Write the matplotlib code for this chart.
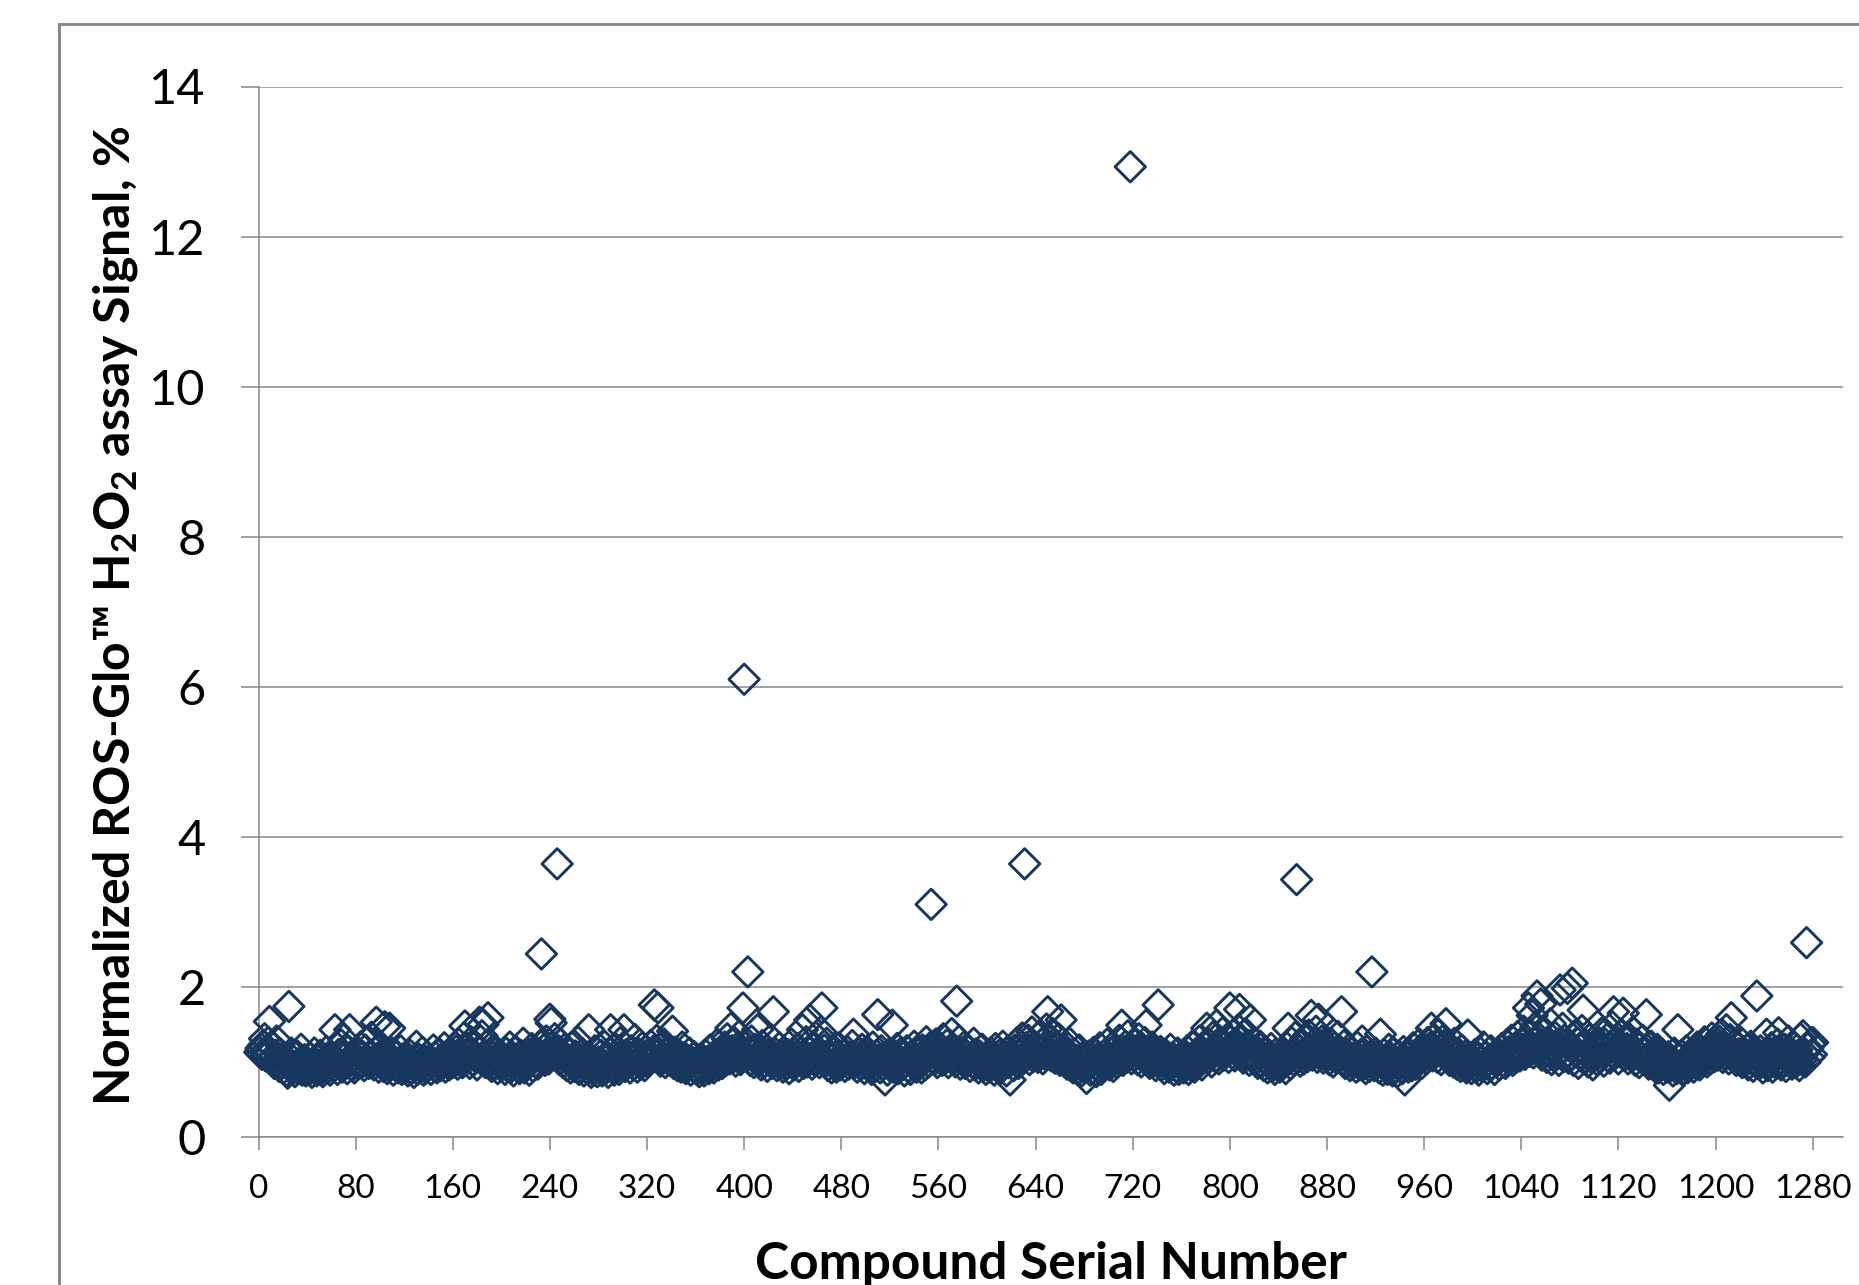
import matplotlib.pyplot as plt
from matplotlib.patches import Rectangle
import numpy as np

plt.rcParams['font.family'] = ['Lato', 'DejaVu Sans']
plt.rcParams['mathtext.fontset'] = 'custom'
plt.rcParams['mathtext.rm'] = 'Lato'
plt.rcParams['mathtext.bf'] = 'Lato:bold'

# normalized signal, one value per compound (serial 1..1280)
signal = [
    1.13, 1.18, 1.10, 1.22, 1.31, 1.08, 1.15, 1.26, 1.54, 1.12, 1.05, 1.19, 0.98, 1.09, 1.28, 1.02, 0.94, 1.11, 0.99, 1.06,
    0.92, 1.04, 0.88, 0.85, 1.74, 0.97, 1.12, 0.90, 1.01, 0.87, 0.95, 1.08, 0.91, 0.99, 1.17, 0.89, 0.96, 1.03, 0.88, 0.93,
    0.97, 0.90, 1.05, 0.86, 0.99, 1.12, 0.93, 0.88, 1.02, 0.95, 1.09, 0.91, 0.87, 1.00, 0.96, 1.14, 0.92, 1.04, 0.89, 0.98,
    1.06, 0.94, 1.43, 1.01, 0.90, 1.10, 0.97, 1.23, 0.93, 1.30, 1.05, 0.99, 0.91, 1.15, 1.43, 1.02, 0.95, 1.08, 0.92, 1.00,
    1.04, 0.97, 1.11, 1.20, 0.99, 1.07, 0.95, 1.16, 1.02, 1.28, 0.98, 1.09, 1.33, 1.01, 0.96, 1.13, 1.53, 1.05, 0.93, 1.18,
    1.00, 1.10, 0.94, 1.47, 1.06, 0.91, 1.03, 1.45, 0.97, 1.12, 0.89, 1.01, 0.95, 1.08, 0.92, 0.99, 1.15, 0.90, 1.04, 0.96,
    0.93, 1.02, 0.88, 0.97, 1.09, 0.91, 1.00, 0.86, 0.95, 1.21, 0.90, 1.04, 0.94, 0.99, 1.13, 0.89, 1.01, 0.92, 1.07, 0.96,
    1.03, 0.90, 0.98, 1.16, 0.94, 1.06, 0.92, 1.00, 1.11, 0.95, 1.04, 0.98, 1.19, 0.93, 1.08, 1.01, 0.96, 1.13, 1.05, 0.99,
    1.07, 1.01, 1.15, 0.97, 1.24, 1.05, 1.10, 0.99, 1.32, 1.48, 1.03, 1.18, 1.08, 0.98, 1.27, 1.12, 1.02, 1.21, 1.06, 0.96,
    1.14, 1.53, 1.04, 1.35, 1.50, 1.09, 0.99, 1.22, 1.59, 1.01, 1.11, 0.94, 1.06, 1.17, 0.97, 1.03, 0.91, 1.08, 1.00, 0.95,
    0.98, 1.05, 0.90, 1.12, 0.94, 1.01, 1.20, 0.93, 1.07, 0.88, 0.99, 1.14, 0.95, 1.03, 0.91, 1.09, 0.97, 1.25, 0.92, 1.04,
    0.96, 1.11, 0.89, 1.02, 1.18, 0.94, 1.06, 1.00, 1.13, 0.97, 1.08, 1.22, 2.44, 1.05, 1.16, 1.02, 1.28, 1.10, 1.04, 1.57,
    1.52, 1.19, 1.12, 1.31, 1.08, 3.64, 1.15, 1.03, 1.24, 1.09, 0.99, 1.17, 1.06, 0.95, 1.13, 1.02, 0.92, 1.20, 1.00, 0.94,
    1.08, 0.97, 1.27, 0.90, 1.03, 0.93, 1.11, 0.88, 0.99, 1.05, 0.91, 1.43, 0.96, 0.86, 1.02, 0.89, 1.15, 0.94, 0.87, 1.00,
    0.92, 1.09, 0.88, 0.97, 1.21, 0.91, 1.04, 0.86, 1.12, 1.43, 0.95, 1.01, 0.89, 1.18, 0.93, 1.06, 0.90, 1.26, 0.98, 1.03,
    1.43, 0.94, 1.10, 0.99, 1.07, 0.92, 1.15, 1.02, 0.96, 1.30, 1.05, 0.93, 1.11, 1.00, 0.97, 1.19, 1.04, 0.95, 1.08, 1.01,
    1.10, 1.03, 1.22, 1.07, 1.14, 1.76, 1.09, 1.29, 1.72, 1.12, 1.01, 1.19, 1.06, 1.24, 0.99, 1.11, 1.04, 1.16, 1.02, 1.08,
    1.41, 0.98, 1.13, 1.05, 0.95, 1.10, 1.00, 0.93, 1.20, 0.97, 1.06, 0.91, 1.02, 0.96, 1.12, 0.89, 1.00, 0.94, 1.07, 0.92,
    0.90, 0.98, 0.87, 1.04, 0.93, 0.99, 0.88, 1.10, 0.95, 1.01, 0.91, 1.16, 0.97, 1.05, 0.92, 1.09, 1.00, 1.24, 0.96, 1.03,
    1.12, 0.98, 1.07, 1.20, 1.02, 1.31, 1.10, 1.04, 1.45, 1.15, 1.06, 1.26, 1.01, 1.18, 1.09, 1.35, 1.03, 1.13, 1.72, 6.10,
    1.21, 1.08, 2.20, 1.14, 1.02, 1.28, 1.10, 0.99, 1.17, 1.05, 1.43, 1.01, 1.12, 0.96, 1.22, 1.07, 1.00, 1.15, 0.94, 1.09,
    1.03, 1.30, 0.98, 1.67, 1.06, 1.11, 0.95, 1.04, 1.19, 0.99, 1.08, 0.93, 1.13, 1.02, 0.97, 1.10, 0.91, 1.05, 1.24, 1.00,
    0.96, 1.07, 1.01, 1.18, 0.94, 1.12, 1.03, 1.43, 0.98, 1.09, 1.27, 1.00, 1.14, 1.56, 1.05, 0.97, 1.21, 1.02, 1.33, 1.08,
    1.11, 0.99, 1.40, 1.72, 1.06, 1.16, 1.01, 1.25, 0.95, 1.10, 1.04, 0.92, 1.13, 0.98, 1.07, 0.93, 1.02, 1.19, 0.96, 1.05,
    1.00, 1.09, 0.94, 1.03, 1.14, 0.97, 1.06, 1.01, 1.22, 1.37, 0.99, 1.08, 0.93, 1.11, 1.02, 0.96, 1.17, 1.04, 0.91, 1.07,
    0.98, 1.13, 0.95, 1.05, 0.90, 1.20, 1.00, 0.94, 1.09, 1.63, 1.03, 0.92, 1.15, 0.97, 1.06, 0.76, 1.01, 0.89, 1.10, 0.95,
    1.04, 1.49, 0.93, 1.08, 0.99, 1.18, 0.91, 1.02, 1.12, 0.96, 1.06, 0.88, 1.00, 1.15, 0.94, 1.03, 0.90, 1.09, 0.97, 1.21,
    1.01, 0.93, 1.11, 0.98, 1.05, 0.92, 1.16, 1.02, 0.96, 1.27, 1.08, 1.00, 1.19, 3.10, 1.06, 1.13, 1.03, 1.24, 0.99, 1.10,
    1.07, 1.18, 1.02, 1.31, 1.11, 1.05, 1.23, 0.99, 1.14, 1.08, 1.38, 1.03, 1.16, 1.00, 1.81, 1.10, 1.28, 0.97, 1.12, 1.04,
    1.20, 0.98, 1.09, 1.01, 1.15, 0.94, 1.06, 1.00, 1.25, 0.96, 1.11, 1.03, 0.92, 1.08, 0.99, 1.17, 0.95, 1.04, 0.90, 1.07,
    1.02, 0.93, 1.12, 0.97, 1.05, 0.89, 1.18, 1.00, 0.94, 1.09, 0.91, 1.03, 1.21, 0.96, 1.07, 0.88, 1.14, 0.99, 0.76, 1.04,
    1.10, 0.95, 1.16, 1.02, 1.26, 0.98, 1.08, 1.13, 1.32, 1.05, 3.64, 1.19, 1.09, 1.29, 1.03, 1.15, 1.40, 1.07, 1.21, 1.11,
    1.17, 1.06, 1.34, 1.12, 1.24, 1.04, 1.19, 1.10, 1.44, 1.67, 1.14, 1.27, 1.08, 1.38, 1.16, 1.05, 1.22, 1.11, 1.31, 1.02,
    1.56, 1.09, 1.18, 1.00, 1.13, 0.97, 1.07, 1.25, 0.95, 1.04, 0.92, 1.11, 0.99, 1.02, 0.90, 1.16, 0.96, 0.88, 1.06, 0.93,
    1.01, 0.78, 0.94, 1.08, 0.89, 1.00, 0.92, 1.13, 0.97, 0.87, 1.05, 0.93, 1.19, 0.90, 1.02, 0.95, 1.10, 0.98, 1.24, 1.03,
    0.96, 1.12, 1.01, 0.94, 1.07, 1.17, 0.99, 1.05, 1.29, 1.09, 1.49, 1.02, 1.14, 1.21, 1.06, 1.35, 1.11, 12.93, 1.04, 1.16,
    1.08, 1.23, 1.13, 1.03, 1.31, 1.10, 1.00, 1.18, 1.06, 1.26, 1.49, 1.04, 1.15, 0.98, 1.09, 1.20, 1.01, 1.12, 0.95, 1.07,
    1.76, 1.02, 1.14, 0.96, 1.05, 0.91, 1.10, 0.99, 1.03, 0.93, 1.17, 0.97, 1.06, 0.89, 1.01, 0.94, 1.12, 0.90, 1.00, 0.95,
    1.04, 0.92, 1.09, 0.97, 1.15, 0.90, 1.02, 0.95, 1.21, 1.00, 0.93, 1.11, 0.98, 1.06, 1.28, 1.03, 0.96, 1.13, 1.08, 1.19,
    1.45, 1.05, 1.24, 1.11, 1.00, 1.33, 1.15, 1.07, 1.49, 1.18, 1.04, 1.27, 1.12, 1.39, 1.09, 1.22, 1.14, 1.31, 1.06, 1.72,
    1.20, 1.12, 1.36, 1.08, 1.25, 1.16, 1.43, 1.70, 1.11, 1.29, 1.05, 1.18, 1.38, 1.09, 1.22, 1.02, 1.56, 1.13, 1.07, 1.26,
    1.03, 1.15, 0.98, 1.10, 1.21, 1.00, 1.06, 0.95, 1.14, 1.02, 0.92, 1.08, 0.99, 1.18, 0.94, 1.04, 0.90, 1.11, 0.97, 1.01,
    0.93, 1.07, 0.96, 1.13, 1.00, 0.91, 1.19, 1.45, 1.04, 0.97, 1.26, 1.09, 1.02, 1.33, 3.43, 1.06, 1.15, 1.01, 1.22, 1.10,
    1.04, 1.30, 1.12, 1.07, 1.36, 1.17, 1.62, 1.09, 1.24, 1.14, 1.41, 1.06, 1.57, 1.19, 1.11, 1.28, 1.05, 1.21, 1.13, 1.08,
    1.16, 1.03, 1.25, 1.09, 1.00, 1.19, 1.12, 1.05, 1.34, 1.08, 1.14, 1.67, 1.02, 1.22, 0.98, 1.11, 1.06, 1.17, 0.95, 1.04,
    1.13, 0.99, 1.07, 0.93, 1.20, 1.01, 0.96, 1.10, 1.28, 0.97, 1.05, 0.91, 1.15, 1.00, 0.94, 1.08, 2.20, 1.02, 0.95, 1.12,
    0.98, 1.06, 0.92, 1.37, 1.01, 0.89, 1.10, 0.95, 1.03, 0.90, 1.17, 0.97, 1.05, 0.88, 1.12, 0.93, 1.00, 0.87, 1.08, 0.96,
    1.02, 0.91, 1.14, 0.76, 0.99, 1.06, 0.93, 1.11, 1.00, 0.95, 1.19, 1.03, 0.97, 1.09, 1.01, 1.24, 1.05, 0.98, 1.13, 1.07,
    1.15, 1.04, 1.26, 1.10, 1.19, 1.45, 1.08, 1.31, 1.13, 1.22, 1.06, 1.37, 1.16, 1.03, 1.28, 1.11, 1.21, 1.51, 1.07, 1.14,
    1.02, 1.18, 1.09, 1.00, 1.25, 1.05, 0.97, 1.12, 1.03, 0.94, 1.16, 1.01, 0.95, 1.08, 0.92, 1.36, 0.99, 1.06, 0.91, 1.02,
    0.96, 1.10, 0.93, 1.04, 0.89, 1.13, 1.00, 0.94, 1.20, 0.98, 1.07, 0.91, 1.02, 0.95, 1.15, 0.97, 1.05, 0.90, 1.09, 1.01,
    1.12, 0.96, 1.06, 1.18, 1.00, 1.09, 0.98, 1.23, 1.04, 1.14, 1.07, 1.29, 1.02, 1.11, 1.19, 1.06, 1.34, 1.13, 1.08, 1.25,
    1.17, 1.41, 1.10, 1.28, 1.20, 1.72, 1.14, 1.36, 1.62, 1.12, 1.25, 1.47, 1.88, 1.18, 1.31, 1.77, 1.09, 1.22, 1.40, 1.15,
    1.06, 1.27, 1.13, 1.51, 1.03, 1.19, 1.08, 1.33, 1.11, 1.24, 1.02, 1.96, 1.16, 1.45, 1.07, 1.29, 1.12, 1.98, 1.05, 1.21,
    1.10, 2.05, 1.02, 1.35, 1.14, 1.26, 0.98, 1.18, 1.08, 1.42, 1.69, 1.04, 1.23, 1.11, 1.00, 1.30, 1.07, 1.15, 0.96, 1.20,
    1.09, 1.03, 1.27, 1.12, 1.06, 1.38, 1.17, 1.01, 1.24, 1.14, 1.08, 1.33, 1.05, 1.19, 1.47, 1.67, 1.10, 1.28, 1.16, 1.04,
    1.22, 1.13, 1.36, 1.65, 1.09, 1.27, 1.18, 1.04, 1.31, 1.12, 1.07, 1.40, 1.15, 1.02, 1.24, 1.10, 0.99, 1.19, 1.06, 1.29,
    1.11, 1.03, 1.63, 1.16, 0.97, 1.08, 1.21, 1.00, 1.13, 0.94, 1.05, 1.17, 0.92, 1.02, 0.96, 1.10, 0.90, 1.04, 0.98, 0.93,
    1.07, 0.69, 0.95, 1.01, 0.88, 1.12, 0.97, 0.91, 1.43, 1.03, 0.94, 1.09, 0.89, 1.00, 0.95, 1.15, 0.92, 1.04, 0.97, 1.08,
    1.01, 0.93, 1.11, 0.98, 1.20, 1.05, 0.96, 1.14, 1.02, 1.09, 1.27, 1.06, 1.00, 1.18, 1.10, 1.04, 1.32, 1.12, 1.07, 1.22,
    1.15, 1.09, 1.28, 1.13, 1.37, 1.06, 1.20, 1.11, 1.43, 1.17, 1.04, 1.30, 1.59, 1.14, 1.08, 1.24, 1.02, 1.19, 1.11, 1.05,
    1.26, 0.99, 1.13, 1.07, 1.02, 1.16, 0.96, 1.09, 1.21, 1.03, 0.94, 1.12, 1.00, 1.88, 1.06, 0.97, 1.15, 1.01, 0.92, 1.08,
    1.03, 1.37, 0.95, 1.10, 1.00, 1.19, 0.93, 1.06, 1.14, 0.98, 1.24, 1.39, 1.04, 0.96, 1.11, 1.01, 1.17, 0.94, 1.07, 1.28,
    1.02, 1.13, 0.97, 1.21, 1.05, 0.99, 1.16, 1.09, 0.95, 1.31, 1.03, 1.35, 1.12, 1.00, 2.59, 1.18, 1.06, 1.24, 1.10, 1.26,
]
compound = np.arange(1, len(signal) + 1)

x_ticks = list(range(0, 1281, 80))
y_ticks = list(range(0, 15, 2))

navy = '#17375E'
grey = '#868686'

fig = plt.figure(figsize=(18.59, 12.85), dpi=100)

# chart-area border (only left and top edges fall inside the image)
fig.add_artist(Rectangle((59 / 1859, -0.05), 1.0, 1 - 24 / 1285 + 0.05,
                         transform=fig.transFigure, fill=False,
                         edgecolor='#898989', linewidth=2.2, clip_on=False))

ax = fig.add_axes([258.5 / 1859, 1 - 1137 / 1285, (1843 - 258.5) / 1859, (1137 - 86.5) / 1285])

ax.scatter(compound, signal, marker='D', s=240, facecolors='none',
           edgecolors=navy, linewidths=2.1, clip_on=False, zorder=3)

ax.set_xlim(0, 1305)
ax.set_ylim(0, 14)
ax.set_xticks(x_ticks)
ax.set_yticks(y_ticks)

ax.yaxis.grid(True, color=grey, linewidth=1.1)
ax.set_axisbelow(True)
for side in ['top', 'right']:
    ax.spines[side].set_visible(False)
for side in ['left', 'bottom']:
    ax.spines[side].set_color(grey)
    ax.spines[side].set_linewidth(1.1)

ax.tick_params(axis='y', length=13, width=1.1, color=grey, labelsize=35, pad=25)
ax.tick_params(axis='x', length=9.4, width=1.1, color=grey, labelsize=24, pad=17)

ax.set_xlabel('Compound Serial Number', fontsize=37, fontweight='bold')
ax.xaxis.set_label_coords(0.5, -142 / 1050.5)
ax.xaxis.label.set_verticalalignment('baseline')

ax.set_ylabel('Normalized ROS-Glo\u2122 $\\mathregular{H_2O_2}$ assay Signal, %',
              fontsize=36, fontweight='bold')
ax.yaxis.set_label_coords(-143 / 1584.5, 0.496)
ax.yaxis.label.set_verticalalignment('center')

fig.savefig('out.png', dpi=100)
